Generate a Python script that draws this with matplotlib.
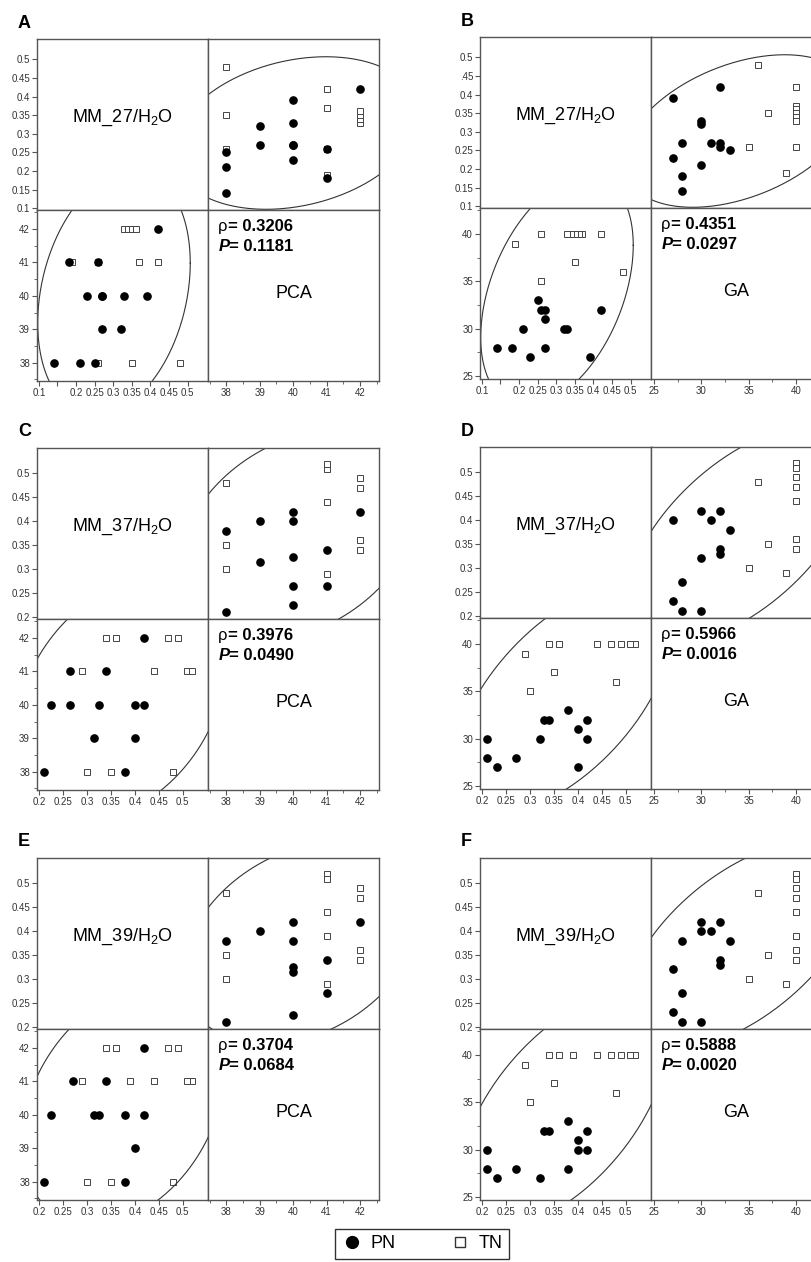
import numpy as np
import matplotlib
matplotlib.use("Agg")
import matplotlib.pyplot as plt
from matplotlib.lines import Line2D

# A: MM_27/H2O vs PCA
a_pn_mm = [0.14, 0.21, 0.25, 0.27, 0.32, 0.23, 0.27, 0.27, 0.33, 0.39, 0.18, 0.26, 0.42]
a_pn_pca = [38, 38, 38, 39, 39, 40, 40, 40, 40, 40, 41, 41, 42]
a_tn_mm = [0.26, 0.35, 0.48, 0.19, 0.26, 0.37, 0.42, 0.33, 0.34, 0.35, 0.36]
a_tn_pca = [38, 38, 38, 41, 41, 41, 41, 42, 42, 42, 42]

# B: MM_27/H2O vs GA
b_pn_mm = [0.39, 0.23, 0.27, 0.18, 0.14, 0.33, 0.32, 0.21, 0.27, 0.42, 0.27, 0.26, 0.25]
b_pn_ga = [27, 27, 28, 28, 28, 30, 30, 30, 31, 32, 32, 32, 33]
b_tn_mm = [0.48, 0.35, 0.26, 0.19, 0.42, 0.37, 0.36, 0.35, 0.34, 0.33, 0.26]
b_tn_ga = [36, 37, 35, 39, 40, 40, 40, 40, 40, 40, 40]

# C: MM_37/H2O vs PCA
c_pn_mm = [0.21, 0.38, 0.315, 0.40, 0.225, 0.265, 0.325, 0.40, 0.42, 0.265, 0.34, 0.42]
c_pn_pca = [38, 38, 39, 39, 40, 40, 40, 40, 40, 41, 41, 42]
c_tn_mm = [0.30, 0.35, 0.48, 0.29, 0.44, 0.51, 0.52, 0.34, 0.36, 0.47, 0.49]
c_tn_pca = [38, 38, 38, 41, 41, 41, 41, 42, 42, 42, 42]

# D: MM_37/H2O vs GA
d_pn_mm = [0.40, 0.23, 0.27, 0.21, 0.42, 0.32, 0.21, 0.40, 0.42, 0.34, 0.33, 0.38]
d_pn_ga = [27, 27, 28, 28, 30, 30, 30, 31, 32, 32, 32, 33]
d_tn_mm = [0.48, 0.35, 0.30, 0.29, 0.52, 0.51, 0.49, 0.47, 0.44, 0.36, 0.34]
d_tn_ga = [36, 37, 35, 39, 40, 40, 40, 40, 40, 40, 40]

# E: MM_39/H2O vs PCA
e_pn_mm = [0.38, 0.21, 0.40, 0.42, 0.38, 0.325, 0.315, 0.225, 0.34, 0.27, 0.42]
e_pn_pca = [38, 38, 39, 40, 40, 40, 40, 40, 41, 41, 42]
e_tn_mm = [0.48, 0.35, 0.30, 0.52, 0.51, 0.44, 0.39, 0.29, 0.49, 0.47, 0.36, 0.34]
e_tn_pca = [38, 38, 38, 41, 41, 41, 41, 41, 42, 42, 42, 42]

# F: MM_39/H2O vs GA
f_pn_mm = [0.32, 0.23, 0.38, 0.27, 0.21, 0.42, 0.40, 0.21, 0.40, 0.42, 0.34, 0.33, 0.38]
f_pn_ga = [27, 27, 28, 28, 28, 30, 30, 30, 31, 32, 32, 32, 33]
f_tn_mm = [0.48, 0.35, 0.30, 0.29, 0.52, 0.51, 0.49, 0.47, 0.44, 0.39, 0.36, 0.34]
f_tn_ga = [36, 37, 35, 39, 40, 40, 40, 40, 40, 40, 40, 40]

rho_values = ["0.3206", "0.4351", "0.3976", "0.5966", "0.3704", "0.5888"]
p_values = ["0.1181", "0.0297", "0.0490", "0.0016", "0.0684", "0.0020"]

plt.rcParams['font.family'] = ['Liberation Sans', 'DejaVu Sans']
plt.rcParams['mathtext.fontset'] = 'custom'
plt.rcParams['mathtext.rm'] = 'Liberation Sans'
plt.rcParams['mathtext.it'] = 'Liberation Sans:italic'
plt.rcParams['mathtext.bf'] = 'Liberation Sans:bold'

W, H = 812, 1262
CELL = 171
LINE = '#555555'

fig = plt.figure(figsize=(W / 100, H / 100), dpi=100)


def px_axes(left, top, w, h):
    return fig.add_axes([left / W, 1 - (top + h) / H, w / W, h / H])


def fmt(v):
    if float(v).is_integer() and v > 1:
        return str(int(v))
    return f"{v:.2f}".rstrip('0')


def style(ax):
    for s in ax.spines.values():
        s.set_color(LINE)
        s.set_linewidth(1.0)
    ax.tick_params(which='both', direction='out', color=LINE, labelsize=7,
                   labelcolor='#333333', pad=1.5)
    ax.tick_params(which='major', length=3.5, width=0.8)
    ax.tick_params(which='minor', length=2, width=0.6)


def ellipse(ax, x, y):
    # 95% density ellipse of all points
    x = np.asarray(x, float)
    y = np.asarray(y, float)
    L = np.linalg.cholesky(np.cov(x, y))
    t = np.linspace(0, 2 * np.pi, 400)
    r = np.sqrt(-2 * np.log(0.05))
    pts = L @ np.vstack([np.cos(t), np.sin(t)]) * r
    ax.plot(x.mean() + pts[0], y.mean() + pts[1], color='#333333', lw=0.8)


def scatter(ax, pn_x, pn_y, tn_x, tn_y):
    ax.plot(tn_x, tn_y, 's', ms=3.8, mfc='white', mec='#444444', mew=0.7, ls='')
    ax.plot(pn_x, pn_y, 'o', ms=5.2, color='black', ls='')


def panel(letter, x0, y0, name, pn_mm, pn_o, tn_mm, tn_o, mm_lim, mm_ticks,
          other, rho, pval, mm_x_labels=None, mm_y_labels=None):
    if other == 'PCA':
        o_lim = (37.45, 42.57)
        o_major = [38, 39, 40, 41, 42]
        o_minor = [37.5, 38.5, 39.5, 40.5, 41.5, 42.5]
    else:
        o_lim = (24.7, 42.75)
        o_major = [25, 30, 35, 40]
        o_minor = [27.5, 32.5, 37.5, 42.5]
    o_labels = [fmt(v) for v in o_major]
    if mm_x_labels is None:
        mm_x_labels = [fmt(v) for v in mm_ticks]
    if mm_y_labels is None:
        mm_y_labels = [fmt(v) for v in mm_ticks]

    tl = px_axes(x0, y0, CELL, CELL)
    tr = px_axes(x0 + CELL, y0, CELL, CELL)
    bl = px_axes(x0, y0 + CELL, CELL, CELL)
    br = px_axes(x0 + CELL, y0 + CELL, CELL, CELL)
    for ax in (tl, tr, bl, br):
        style(ax)

    # label cell
    tl.set_xlim(o_lim)
    tl.set_ylim(mm_lim)
    tl.set_xticks([])
    tl.set_yticks(mm_ticks)
    tl.set_yticklabels(mm_y_labels)
    tl.text(0.5, 0.54, name, transform=tl.transAxes, ha='center', va='center',
            fontsize=13)

    # MM vs other
    tr.set_xlim(o_lim)
    tr.set_ylim(mm_lim)
    tr.set_xticks([])
    tr.set_yticks([])
    scatter(tr, pn_o, pn_mm, tn_o, tn_mm)
    ellipse(tr, list(pn_o) + list(tn_o), list(pn_mm) + list(tn_mm))

    # other vs MM
    bl.set_xlim(mm_lim)
    bl.set_ylim(o_lim)
    bl.set_xticks(mm_ticks)
    bl.set_xticklabels(mm_x_labels)
    bl.set_yticks(o_major)
    bl.set_yticklabels(o_labels)
    bl.set_yticks(o_minor, minor=True)
    scatter(bl, pn_mm, pn_o, tn_mm, tn_o)
    ellipse(bl, list(pn_mm) + list(tn_mm), list(pn_o) + list(tn_o))

    # stats cell
    br.set_xlim(o_lim)
    br.set_ylim(0, 1)
    br.set_yticks([])
    br.set_xticks(o_major)
    br.set_xticklabels(o_labels)
    br.set_xticks(o_minor, minor=True)
    t1 = br.text(0.06, 0.875, "\u03c1", transform=br.transAxes, fontsize=12)
    br.annotate("= " + rho, xy=(1, 0), xycoords=t1, fontsize=12,
                fontweight='bold', va='bottom')
    t2 = br.text(0.06, 0.76, "P", transform=br.transAxes, fontsize=12,
                 fontweight='bold', style='italic')
    br.annotate("= " + pval, xy=(1, 0), xycoords=t2, fontsize=12,
                fontweight='bold', va='bottom')
    br.text(0.5, 0.51, other, transform=br.transAxes, ha='center', va='center',
            fontsize=13)

    fig.text((x0 - 19) / W, 1 - (y0 - 16) / H, letter, fontsize=13,
             fontweight='bold', va='center')


mm27_ticks = [0.1, 0.15, 0.2, 0.25, 0.3, 0.35, 0.4, 0.45, 0.5]
mm_ticks = [0.2, 0.25, 0.3, 0.35, 0.4, 0.45, 0.5]
mm27_lim = (0.095, 0.555)
mm_lim = (0.195, 0.553)
mm27_x = ['0.1', '', '0.2', '0.25', '0.3', '0.35', '0.4', '0.45', '0.5']
mm27_y_b = ['0.1', '0.15', '0.2', '0.25', '0.3', '0.35', '0.4', '.45', '0.5']

panel('A', 37, 39, 'MM_27/H$_2$O', a_pn_mm, a_pn_pca, a_tn_mm, a_tn_pca,
      mm27_lim, mm27_ticks, 'PCA', rho_values[0], p_values[0], mm_x_labels=mm27_x)
panel('B', 480, 37, 'MM_27/H$_2$O', b_pn_mm, b_pn_ga, b_tn_mm, b_tn_ga,
      mm27_lim, mm27_ticks, 'GA', rho_values[1], p_values[1], mm_x_labels=mm27_x,
      mm_y_labels=mm27_y_b)
panel('C', 37, 448, 'MM_37/H$_2$O', c_pn_mm, c_pn_pca, c_tn_mm, c_tn_pca,
      mm_lim, mm_ticks, 'PCA', rho_values[2], p_values[2])
panel('D', 480, 447, 'MM_37/H$_2$O', d_pn_mm, d_pn_ga, d_tn_mm, d_tn_ga,
      mm_lim, mm_ticks, 'GA', rho_values[3], p_values[3])
panel('E', 37, 858, 'MM_39/H$_2$O', e_pn_mm, e_pn_pca, e_tn_mm, e_tn_pca,
      mm_lim, mm_ticks, 'PCA', rho_values[4], p_values[4])
panel('F', 480, 858, 'MM_39/H$_2$O', f_pn_mm, f_pn_ga, f_tn_mm, f_tn_ga,
      mm_lim, mm_ticks, 'GA', rho_values[5], p_values[5])

handles = [
    Line2D([], [], marker='o', ls='', color='black', ms=8.5, label='PN'),
    Line2D([], [], marker='s', ls='', mfc='white', mec='#333333', mew=1.0, ms=7,
           label='TN'),
]
leg = fig.legend(handles=handles, loc='upper left', ncol=2,
                 bbox_to_anchor=(335 / W, 1 - 1229 / H), frameon=True,
                 fancybox=False, edgecolor='black', fontsize=13,
                 handletextpad=0.4, columnspacing=3.0, borderpad=0.35,
                 handlelength=1.2, borderaxespad=0)
leg.get_frame().set_linewidth(1.0)

fig.savefig('out.png', dpi=100)
